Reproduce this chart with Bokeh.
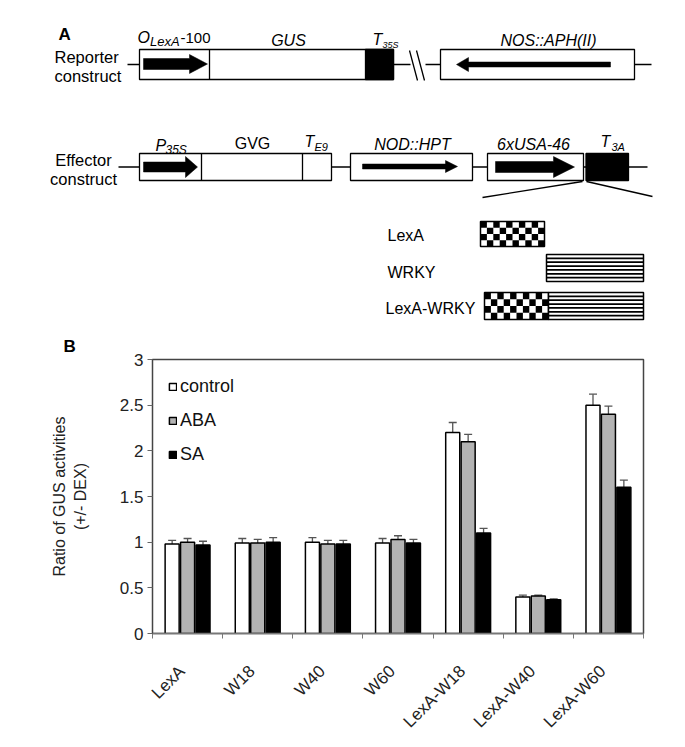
import math
from bokeh.plotting import figure
from bokeh.models import (Range1d, FixedTicker, Whisker, TeeHead, ColumnDataSource,
                          Legend, LegendItem, NumeralTickFormatter, CustomJSTickFormatter, Title)
from bokeh.core.properties import value
from bokeh.embed import file_html
from bokeh.resources import INLINE

FONT = "Liberation Sans"

# ---------------- data (panel B) ----------------
categories = ["LexA", "W18", "W40", "W60", "LexA-W18", "LexA-W40", "LexA-W60"]
series_names = ["control", "ABA", "SA"]
control = [0.98, 0.99, 1.00, 0.99, 2.20, 0.40, 2.50]
aba = [1.00, 0.99, 0.98, 1.03, 2.10, 0.41, 2.40]
sa = [0.97, 1.00, 0.98, 0.99, 1.10, 0.37, 1.60]
control_err = [0.04, 0.05, 0.05, 0.05, 0.11, 0.02, 0.12]
aba_err = [0.04, 0.04, 0.04, 0.04, 0.08, 0.01, 0.09]
sa_err = [0.04, 0.05, 0.04, 0.04, 0.05, 0.01, 0.08]
y_ticks = [0, 0.5, 1, 1.5, 2, 2.5, 3]

# ---------------- panel A : construct diagram (pixel coordinates) ----------------
A_H = 330
pA = figure(width=685, height=A_H, x_range=Range1d(0, 685), y_range=Range1d(A_H, 0),
            output_backend="svg", toolbar_location=None, min_border=0,
            x_axis_type=None, y_axis_type=None)
pA.grid.visible = False
pA.outline_line_color = None


def txt(x, y, s, size, style="normal", align="left"):
    pA.text(x=[x], y=[y], text=[s], text_font=value(FONT), text_font_size=f"{size}px",
            text_font_style=style, text_align=align, text_baseline="middle", text_color="black")


def box(l, r, t, b, fill="white", lw=1.3):
    pA.quad(left=[l], right=[r], top=[t], bottom=[b], fill_color=fill, line_color="black", line_width=lw)


def line(xs, ys, lw=1.3):
    pA.line(x=xs, y=ys, line_color="black", line_width=lw)


def arrow(x0, xt, xb, y, h, H):
    xs = [x0, xb, xb, xt, xb, xb, x0]
    ys = [y - h, y - h, y - H, y, y + H, y + h, y + h]
    pA.patch(x=xs, y=ys, fill_color="black", line_color="black", line_width=0.5)


txt(58, 34, "A", 17, "bold")

# Reporter construct
txt(54, 56, "Reporter", 16.5)
txt(54, 75, "construct", 16.5)
line([127, 410], [64, 64])
line([425, 651], [64, 64])
line([409, 417], [50, 80])
line([416, 424], [50, 80])
box(139, 393, 49, 79)
line([209, 209], [49, 79])
box(365, 393, 49, 79, fill="black")
arrow(143, 207, 189, 63.5, 5.5, 9.5)
box(440, 634, 49, 79)
arrow(610, 456, 468, 64, 2.5, 7)
txt(137, 37, "O", 16, "italic")
txt(149.5, 41, "LexA", 13, "italic")
txt(180, 37, "-100", 15)
txt(288, 40, "GUS", 16, "italic", "center")
txt(372, 39, "T", 16, "italic")
txt(382, 44, "35S", 9, "italic")
txt(548, 40, "NOS::APH(II)", 16, "italic", "center")

# Effector construct
txt(83, 159, "Effector", 16.5, align="center")
txt(83, 178, "construct", 16.5, align="center")
line([118, 647], [166.5, 166.5])
box(139, 331, 153, 180)
line([201, 201], [153, 180])
line([302, 302], [153, 180])
arrow(143, 197, 185, 166.5, 5, 10.5)
box(350, 472, 153, 180)
arrow(362, 457, 445, 166, 2.5, 6)
box(487, 583, 153, 180)
box(585.5, 628, 153, 180, fill="black")
arrow(495, 574, 553, 166.5, 5.5, 10.5)
line([582, 482], [181, 197])
line([586, 652], [181, 196])
txt(155, 145, "P", 16, "italic")
txt(165, 149, "35S", 12, "italic")
txt(252, 143, "GVG", 16, align="center")
txt(304, 141, "T", 16, "italic")
txt(314, 146, "E9", 11, "italic")
txt(412, 144, "NOD::HPT", 16, "italic", "center")
txt(533, 144, "6xUSA-46", 16, "italic", "center")
txt(600, 141, "T", 16, "italic")
txt(611, 146, "3A", 11, "italic")


# domain diagrams
def checker(l, r, t, b, ncol, nrow):
    w = (r - l) / ncol
    h = (b - t) / nrow
    ls, rs, ts, bs = [], [], [], []
    for i in range(ncol):
        for j in range(nrow):
            if (i + j) % 2 == 0:
                ls.append(l + i * w); rs.append(l + (i + 1) * w)
                ts.append(t + j * h); bs.append(t + (j + 1) * h)
    pA.quad(left=[l], right=[r], top=[t], bottom=[b], fill_color="white", line_color=None)
    pA.quad(left=ls, right=rs, top=ts, bottom=bs, fill_color="black", line_color=None)
    pA.quad(left=[l], right=[r], top=[t], bottom=[b], fill_color=None, line_color="black", line_width=1.5)


def stripes(l, r, t, b, n):
    pA.quad(left=[l], right=[r], top=[t], bottom=[b], fill_color="white", line_color=None)
    step = (b - t) / (n + 1)
    xs = [[l, r] for _ in range(n)]
    ys = [[t + step * (k + 1)] * 2 for k in range(n)]
    pA.multi_line(xs=xs, ys=ys, line_color="black", line_width=1.8)
    pA.quad(left=[l], right=[r], top=[t], bottom=[b], fill_color=None, line_color="black", line_width=1.5)


checker(480, 544, 221, 246, 10, 4)
stripes(546, 643, 254, 281, 6)
checker(484, 548, 292, 319, 10, 4)
stripes(548, 643, 292, 319, 6)
txt(387, 235, "LexA", 16)
txt(387, 272, "WRKY", 16)
txt(385, 308, "LexA-WRKY", 16)

# ---------------- panel B : bar chart ----------------
pB = figure(width=685, height=747 - A_H, x_range=Range1d(0, 7), y_range=Range1d(0, 3),
            output_backend="svg", toolbar_location=None,
            min_border_left=152, min_border_right=42, min_border_top=28, min_border_bottom=114)
pB.grid.visible = False
pB.outline_line_color = "#444444"
pB.outline_line_width = 1.5

# panel label "B" as the figure title, pushed left of the axis
pB.title = Title(text="B", align="left", offset=-89, standoff=8, text_font=FONT,
                 text_font_size="17px", text_font_style="bold", text_color="black")

offsets = [-0.22, 0.0, 0.22]
fills = ["#ffffff", "#b3b3b3", "#000000"]
vals_all = [control, aba, sa]
errs_all = [control_err, aba_err, sa_err]
renderers = []
for k in range(3):
    xs = [i + 0.5 + offsets[k] for i in range(len(categories))]
    src = ColumnDataSource(dict(x=xs, top=vals_all[k],
                                upper=[v + e for v, e in zip(vals_all[k], errs_all[k])]))
    r = pB.vbar(x="x", top="top", bottom=0, width=0.2, source=src,
                fill_color=fills[k], line_color="black", line_width=1.5)
    renderers.append(r)
    w = Whisker(source=src, base="x", upper="upper", lower="top", dimension="height",
                line_color="#555555", line_width=1.3,
                upper_head=TeeHead(size=8, line_color="#555555", line_width=1.3), lower_head=None)
    pB.add_layout(w)

# axes
yax = pB.yaxis[0]
yax.ticker = FixedTicker(ticks=y_ticks)
yax.formatter = NumeralTickFormatter(format="0.[0]")
yax.major_tick_in = 0
yax.major_tick_out = 5
yax.minor_tick_line_color = None
yax.axis_line_color = "#444444"
yax.major_tick_line_color = "#666666"
yax.major_label_text_font = FONT
yax.major_label_text_font_size = "17px"
yax.major_label_text_color = "#222222"
yax.major_label_standoff = 4
yax.axis_label = "Ratio of GUS activities\n(+/- DEX)"
yax.axis_label_text_font = FONT
yax.axis_label_text_font_size = "16px"
yax.axis_label_text_font_style = "normal"
yax.axis_label_text_color = "#222222"
yax.axis_label_standoff = 28

xax = pB.xaxis[0]
label_pos = [i + 0.42 for i in range(len(categories))]
xax.ticker = FixedTicker(ticks=label_pos, minor_ticks=list(range(len(categories) + 1)))
xax.formatter = CustomJSTickFormatter(args=dict(cats=categories),
                                      code="const c = cats[Math.round(tick - 0.42)]; return c === undefined ? '' : c;")
xax.major_tick_line_color = None
xax.major_tick_in = 0
xax.major_tick_out = 0
xax.minor_tick_in = 0
xax.minor_tick_out = 5
xax.minor_tick_line_color = "#777777"
xax.axis_line_color = "#777777"
xax.axis_line_width = 1.5
xax.major_label_orientation = math.pi / 4
xax.major_label_text_font = FONT
xax.major_label_text_font_size = "17px"
xax.major_label_text_color = "#222222"
xax.major_label_standoff = 30

legend = Legend(items=[LegendItem(label=n, renderers=[r]) for n, r in zip(series_names, renderers)],
                location=(16, 168), margin=0, padding=0, spacing=13,
                glyph_width=9, glyph_height=9, label_standoff=3,
                label_text_font=FONT, label_text_font_size="18px", label_text_color="#111111",
                border_line_color=None, background_fill_alpha=0)
pB.add_layout(legend)

open("out.html", "w").write(file_html([pA, pB], INLINE))
